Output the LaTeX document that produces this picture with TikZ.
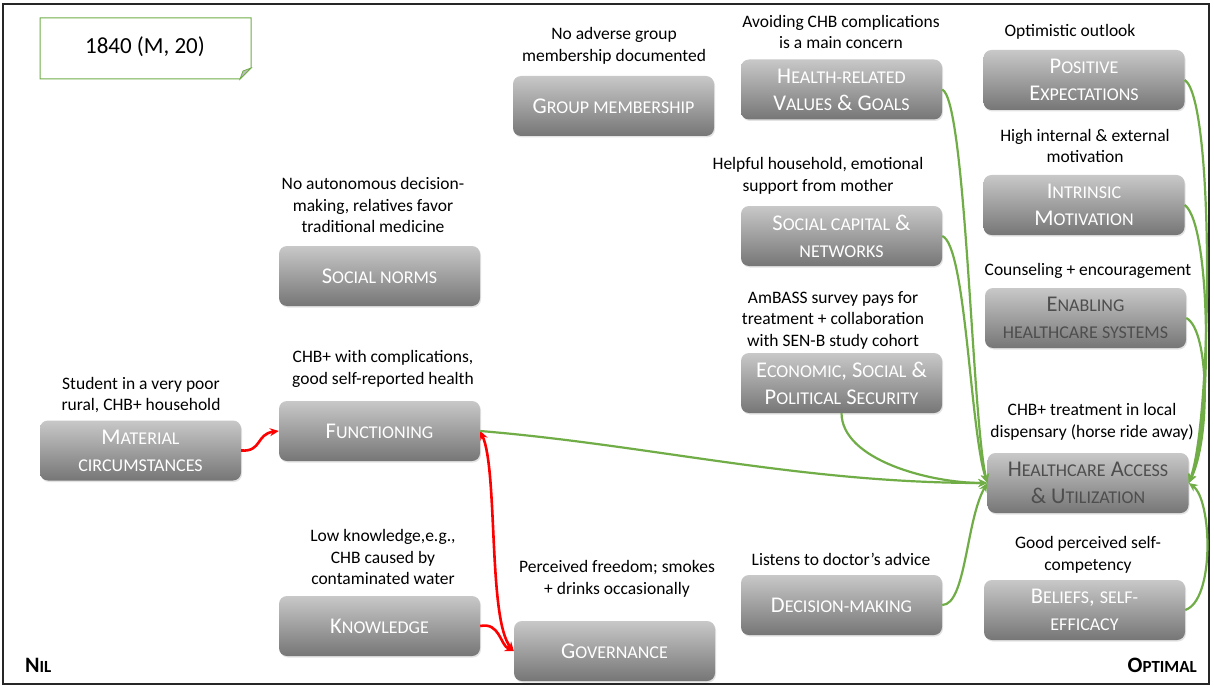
\documentclass[tikz,border=0pt]{standalone}
\usepackage{fontspec}
\setmainfont{Carlito}
\usetikzlibrary{arrows.meta,shadows}

\definecolor{boxtop}{RGB}{200,200,200}
\definecolor{boxbot}{RGB}{118,118,118}
\definecolor{linkgreen}{RGB}{112,173,71}
\definecolor{linkred}{RGB}{255,0,0}
\definecolor{darktext}{RGB}{78,78,78}
\definecolor{foldgray}{RGB}{190,190,190}

% lower part of a small-caps word
\newcommand{\sm}[1]{{\fontsize{18}{27}\selectfont #1}}

\tikzset{
  factor/.style={rounded corners=8pt, top color=boxtop, bottom color=boxbot,
    minimum width=201pt, minimum height=60pt, inner sep=0pt, text=white,
    align=center, font=\fontsize{22.5}{27}\selectfont,
    drop shadow={opacity=0.22, shadow xshift=1pt, shadow yshift=-1.5pt}},
  darkfactor/.style={factor, text=darktext},
  note/.style={align=center, font=\fontsize{17.5}{21.5}\selectfont, text=black, inner sep=0pt},
  good/.style={draw=linkgreen, line width=2.2pt, -{Stealth[length=9pt,width=8pt]}},
  bad/.style={draw=linkred, line width=2.6pt, -{Stealth[length=9pt,width=8pt]}},
  pole/.style={font=\bfseries, inner sep=0pt}
}

\begin{document}
\begin{tikzpicture}[x=1pt,y=1pt]
\useasboundingbox (0,0) rectangle (1214,-687);
\fill[white] (0,0) rectangle (1214,-687);
\draw[line width=1.3pt, black!85] (3,-4) rectangle (1209,-684);

% case label with folded corner
\draw[linkgreen, line width=1pt, fill=white]
  (40,-18) -- (251,-18) -- (251,-68) -- (240,-79) -- (40,-79) -- cycle;
\draw[linkgreen, line width=0.8pt, fill=foldgray]
  (251,-68) -- (243,-71) -- (240,-79) -- cycle;
\node[font=\fontsize{23}{27}\selectfont] (case) at (145,-47) {1840 (M, 20)};

% factors
\node[factor] (mat)    at (140.5,-450.5) {M\sm{ATERIAL}\\\sm{CIRCUMSTANCES}};
\node[factor] (func)   at (379.5,-431)   {F\sm{UNCTIONING}};
\node[factor] (norms)  at (379.5,-276)   {S\sm{OCIAL NORMS}};
\node[factor] (know)   at (379.5,-626)   {K\sm{NOWLEDGE}};
\node[factor] (group)  at (613.5,-106)   {G\sm{ROUP MEMBERSHIP}};
\node[factor] (gov)    at (614.5,-651)   {G\sm{OVERNANCE}};
\node[factor] (values) at (841.5,-89.5)  {H\sm{EALTH-RELATED}\\V\sm{ALUES} \& G\sm{OALS}};
\node[factor] (social) at (841.5,-236)   {S\sm{OCIAL CAPITAL} \&\\\sm{NETWORKS}};
\node[factor] (econ)   at (841.5,-383)   {E\sm{CONOMIC}, S\sm{OCIAL} \&\\P\sm{OLITICAL} S\sm{ECURITY}};
\node[factor] (dec)    at (841.5,-605)   {D\sm{ECISION-MAKING}};
\node[factor] (pos)    at (1084,-80)     {P\sm{OSITIVE}\\E\sm{XPECTATIONS}};
\node[factor] (intr)   at (1084,-205)    {I\sm{NTRINSIC}\\M\sm{OTIVATION}};
\node[darkfactor] (enab) at (1085.5,-318) {E\sm{NABLING}\\\sm{HEALTHCARE SYSTEMS}};
\node[darkfactor] (hca)  at (1088,-483)   {H\sm{EALTHCARE} A\sm{CCESS}\\\& U\sm{TILIZATION}};
\node[factor] (bel)    at (1084.5,-610)  {B\sm{ELIEFS}, \sm{SELF-}\\\sm{EFFICACY}};

% notes
\node[note] (matn)    at (141,-395)  {Student in a very poor\\rural, CHB+ household};
\node[note] (funcn)   at (383,-369)  {CHB+ with complications,\\good self-reported health};
\node[note] (normsn)  at (373,-205)  {No autonomous decision-\\making, relatives favor\\traditional medicine};
\node[note] (known)   at (383,-557)  {Low knowledge,e.g.,\\CHB caused by\\contaminated water};
\node[note] (groupn)  at (614,-46)   {No adverse group\\membership documented};
\node[note] (govn)    at (617,-579)  {Perceived freedom; smokes\\+ drinks occasionally};
\node[note] (valuesn) at (841,-32)   {Avoiding CHB complications\\is a main concern};
\node[note] (socialn) at (818,-176)  {Helpful household, emotional\\support from mother};
\node[note] (econn)   at (833,-320)  {AmBASS survey pays for\\treatment + collaboration\\with SEN-B study cohort};
\node[note] (decn)    at (841,-559)  {Listens to doctor’s advice};
\node[note] (posn)    at (1070,-32)  {Optimistic outlook};
\node[note] (intrn)   at (1085,-146) {High internal \& external\\motivation};
\node[note] (enabn)   at (1088,-271) {Counseling + encouragement};
\node[note] (hcan)    at (1092,-422) {CHB+ treatment in local\\dispensary (horse ride away)};
\node[note] (beln)    at (1088,-555) {Good perceived self-\\competency};

% scale ends
\node[pole, anchor=west] (nil) at (25,-665)
  {\fontsize{22}{24}\selectfont N\fontsize{17}{24}\selectfont IL};
\node[pole, anchor=east] (opt) at (1197,-665)
  {\fontsize{22}{24}\selectfont O\fontsize{17}{24}\selectfont PTIMAL};

% hindering links
\draw[bad] (mat.east) .. controls (262,-452) and (256,-434) .. (func.west);
\draw[bad, {Stealth[length=9pt,width=8pt]}-{Stealth[length=9pt,width=8pt]}]
  (func.east) .. controls (498,-470) and (488,-620) .. (gov.west);
\draw[bad] (know.east) .. controls (500,-622) and (500,-645) .. (gov.west);

% supporting links into access & utilization
\draw[good] (func.east) .. controls (650,-445) and (800,-483) .. (hca.west);
\draw[good] (values.east) .. controls (966,-100) and (972,-420) .. (hca.west);
\draw[good] (social.east) .. controls (966,-245) and (970,-430) .. (hca.west);
\draw[good] (econ.south) .. controls (842,-460) and (930,-483) .. (hca.west);
\draw[good] (dec.east) .. controls (966,-605) and (966,-520) .. (hca.west);
\draw[good] (pos.east) .. controls (1215,-100) and (1212,-420) .. (hca.east);
\draw[good] (intr.east) .. controls (1212,-225) and (1212,-430) .. (hca.east);
\draw[good] (enab.east) .. controls (1210,-330) and (1210,-440) .. (hca.east);
\draw[good] (bel.east) .. controls (1215,-600) and (1212,-500) .. (hca.east);
\end{tikzpicture}
\end{document}
